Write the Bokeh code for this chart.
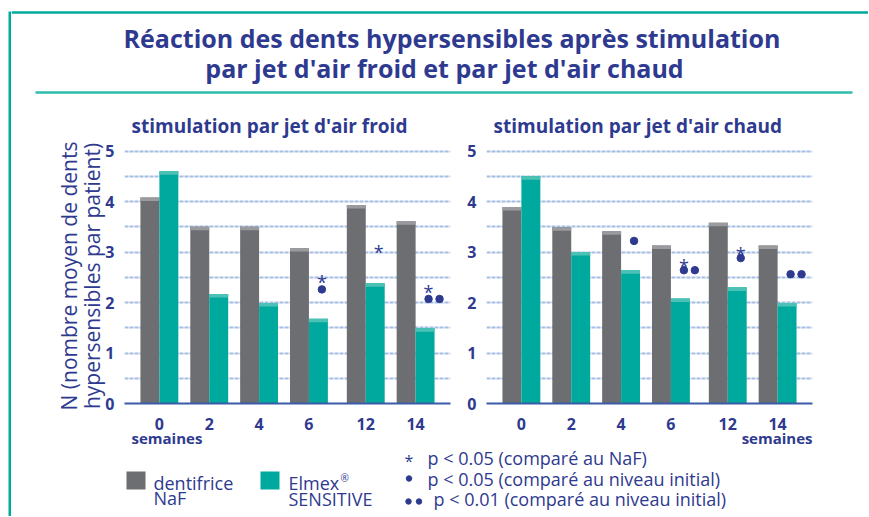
from bokeh.plotting import figure
from bokeh.layouts import row, column
from bokeh.models import ColumnDataSource, FactorRange, Range1d, FixedTicker
from bokeh.transform import dodge
from bokeh.core.properties import value
from bokeh.embed import file_html
from bokeh.resources import INLINE

# ---------------- data ----------------
weeks = ["0", "2", "4", "6", "12", "14"]
period = ["a", "a", "a", "a", "b", "b"]          # break in the axis between 6 and 12 weeks

froid_naf = [4.08, 3.50, 3.50, 3.08, 3.93, 3.61]
froid_elmex = [4.60, 2.17, 1.99, 1.68, 2.38, 1.49]
chaud_naf = [3.89, 3.49, 3.41, 3.13, 3.58, 3.13]
chaud_elmex = [4.50, 3.00, 2.64, 2.08, 2.30, 1.99]

# significance marks (y level of the symbol), None = no mark
froid_star = [None, None, None, 2.49, 3.08, 2.28]
froid_dot = [None, None, None, 2.26, None, 2.07]
froid_dot2 = [None, None, None, None, None, 2.07]
chaud_star = [None, None, None, 2.80, 3.04, None]
chaud_dot = [None, None, 3.22, 2.64, 2.88, 2.56]
chaud_dot2 = [None, None, None, 2.64, None, 2.56]

y_ticks = [0, 1, 2, 3, 4, 5]
grid_ticks = [0.5, 1, 1.5, 2, 2.5, 3, 3.5, 4, 4.5, 5]

title_lines = ["Réaction des dents hypersensibles après stimulation",
               "par jet d'air froid et par jet d'air chaud"]
sub_froid = "stimulation par jet d'air froid"
sub_chaud = "stimulation par jet d'air chaud"
ylabel_text = "N (nombre moyen de dents\nhypersensibles par patient)"
x_unit = "semaines"
series_names = [["dentifrice", "NaF"], ["Elmex", "SENSITIVE"]]
sig_notes = ["p < 0.05 (comparé au NaF)",
             "p < 0.05 (comparé au niveau initial)",
             "p < 0.01 (comparé au niveau initial)"]

# ---------------- style ----------------
NAVY = "#2e3a8f"
TEAL = "#00a99d"
TEAL_HI = "#4cc2b6"
GRAY = "#6d6e71"
GRAY_HI = "#9a9b9e"
GRID = "#a5bde2"
AXIS = "#3a5ca8"
FONT = "Open Sans"
TOTAL_W = 868
TOTAL_H = 516
HDR_H = 99
CHART_H = 341
TOP_B = 49
FRAME_H = 255
OVERLAP = 15
LEG_H = TOTAL_H - HDR_H - CHART_H + OVERLAP
INNER_W = TOTAL_W - 11


def sub_source(factors, vals):
    xs = [f for f, v in zip(factors, vals) if v is not None]
    ys = [v for v in vals if v is not None]
    return ColumnDataSource(dict(x=xs, y=ys))


def chart(subtitle, naf, elmex, star, dot, dot2, width, left, right, with_ylabel):
    factors = list(zip(period, weeks))
    xr = FactorRange(factors=factors, factor_padding=0, group_padding=0.14,
                     range_padding=0.2, range_padding_units="absolute")
    p = figure(width=width, height=CHART_H, x_range=xr, y_range=Range1d(0, 5.05),
               output_backend="svg", toolbar_location=None,
               min_border_left=left, min_border_right=right,
               min_border_top=TOP_B, min_border_bottom=CHART_H - TOP_B - FRAME_H,
               outline_line_color=None, border_fill_color="white")
    p.title.text = subtitle
    p.title.text_font = FONT
    p.title.text_font_style = "bold"
    p.title.text_font_size = "19px"
    p.title.text_color = NAVY
    p.title.align = "left"
    p.title.offset = 7
    p.title.standoff = 20

    cap = 0.07
    src = ColumnDataSource(dict(x=factors, naf=naf, elmex=elmex,
                                naf_c=[v - cap for v in naf],
                                elmex_c=[v - cap for v in elmex]))
    p.vbar(x=dodge("x", -0.19, range=xr), top="naf", width=0.38, source=src,
           fill_color=GRAY, line_color=None)
    p.vbar(x=dodge("x", -0.19, range=xr), top="naf", bottom="naf_c", width=0.38, source=src,
           fill_color=GRAY_HI, line_color=None)
    p.vbar(x=dodge("x", 0.19, range=xr), top="elmex", width=0.38, source=src,
           fill_color=TEAL, line_color=None)
    p.vbar(x=dodge("x", 0.19, range=xr), top="elmex", bottom="elmex_c", width=0.38, source=src,
           fill_color=TEAL_HI, line_color=None)

    ss = sub_source(factors, star)
    ss.data["t"] = ["*"] * len(ss.data["y"])
    p.text(x=dodge("x", 0.26, range=xr), y="y", text="t", source=ss,
           text_font=value(FONT), text_font_size="18px", text_color=NAVY,
           text_align="center", text_baseline="middle", y_offset=4)
    p.scatter(x=dodge("x", 0.26, range=xr), y="y", source=sub_source(factors, dot),
              size=7.5, color=NAVY)
    p.scatter(x=dodge("x", 0.48, range=xr), y="y", source=sub_source(factors, dot2),
              size=7.5, color=NAVY)

    # axes
    p.yaxis.ticker = FixedTicker(ticks=y_ticks)
    p.yaxis.axis_line_color = None
    p.yaxis.major_tick_line_color = None
    p.yaxis.minor_tick_line_color = None
    p.yaxis.major_label_standoff = 4
    for ax in (p.xaxis, p.yaxis):
        ax.major_label_text_font = FONT
        ax.major_label_text_font_style = "bold"
        ax.major_label_text_font_size = "16px"
        ax.major_label_text_color = NAVY
    p.xaxis.axis_line_color = AXIS
    p.xaxis.axis_line_width = 2
    p.xaxis.major_tick_line_color = None
    p.xaxis.minor_tick_line_color = None
    p.xaxis.major_label_standoff = 8
    p.xaxis.group_text_font_size = "0px"
    p.xaxis.group_text_alpha = 0
    p.xaxis.separator_line_color = None

    p.xgrid.grid_line_color = None
    p.ygrid.ticker = FixedTicker(ticks=grid_ticks)
    p.ygrid.grid_line_color = GRID
    p.ygrid.grid_line_width = 2
    p.ygrid.grid_line_dash = "4 1"

    if with_ylabel:
        p.yaxis.axis_label = ylabel_text
        p.yaxis.axis_label_text_font = FONT
        p.yaxis.axis_label_text_font_style = "normal"
        p.yaxis.axis_label_text_font_size = "21px"
        p.yaxis.axis_label_text_color = NAVY
        p.yaxis.axis_label_text_line_height = 0.85
        p.yaxis.axis_label_standoff = -4
    return p


def blank(width, height, **kw):
    f = figure(width=width, height=height, x_range=Range1d(0, width), y_range=Range1d(0, height),
               output_backend="svg", toolbar_location=None, min_border=0,
               x_axis_type=None, y_axis_type=None, outline_line_color=None,
               border_fill_color="white", **kw)
    f.grid.visible = False
    return f


# ---------------- header ----------------
hdr = blank(INNER_W, HDR_H)
hdr.segment(x0=[0], y0=[HDR_H - 12], x1=[INNER_W], y1=[HDR_H - 12], line_color=TEAL, line_width=2.5)
hdr.text(x=[440.5, 433], y=[HDR_H - 37, HDR_H - 67.5], text=title_lines, text_font=value(FONT),
         text_font_style="bold", text_font_size="25px", text_color=NAVY,
         text_align="center", text_baseline="alphabetic")
hdr.segment(x0=[24], y0=[HDR_H - 92], x1=[841], y1=[HDR_H - 92], line_color="#2ebcad", line_width=2.5)

# ---------------- charts ----------------
left_chart = chart(sub_froid, froid_naf, froid_elmex, froid_star, froid_dot, froid_dot2,
                   445, 113, 6, True)
right_w = INNER_W - 445
right_chart = chart(sub_chaud, chaud_naf, chaud_elmex, chaud_star, chaud_dot, chaud_dot2,
                    right_w, 30, right_w - 30 - 326, False)

# ---------------- legend (and axis unit), slightly overlapping the charts ----------------
leg = blank(INNER_W, LEG_H, margin=(-OVERLAP, 0, 0, 0))
leg.border_fill_alpha = 0
leg.background_fill_alpha = 0
B = TOTAL_H + 8   # text baseline correction
leg.text(x=[120, 801], y=[B - 445, B - 445], text=[x_unit, x_unit],
         text_align=["left", "right"], text_font=value(FONT), text_font_style="bold",
         text_font_size="15px", text_color=NAVY, text_baseline="alphabetic")
leg.quad(left=[115, 249], right=[134, 268], bottom=[TOTAL_H - 489] * 2, top=[TOTAL_H - 471] * 2,
         fill_color=[GRAY, TEAL], line_color=None)
leg.text(x=[142, 142, 277, 277], y=[B - 490, B - 505, B - 490, B - 506],
         text=[series_names[0][0], series_names[0][1], series_names[1][0], series_names[1][1]],
         text_font=value(FONT), text_font_size="18px", text_color=NAVY,
         text_align="left", text_baseline="alphabetic")
leg.text(x=[329], y=[B - 485], text=["®"], text_font=value(FONT), text_font_size="10px",
         text_color=NAVY, text_align="left", text_baseline="alphabetic")
leg.text(x=[416, 416, 422], y=[B - 465, B - 486, B - 506], text=sig_notes,
         text_font=value(FONT), text_font_size="18px", text_color=NAVY,
         text_align="left", text_baseline="alphabetic")
leg.text(x=[397.5], y=[TOTAL_H - 456.5], text=["*"], text_font=value(FONT), text_font_size="16px",
         text_color=NAVY, text_align="center", text_baseline="middle", y_offset=4)
leg.scatter(x=[397.5, 397, 407.5], y=[TOTAL_H - 478, TOTAL_H - 501, TOTAL_H - 501],
            size=5.5, color=NAVY)

# ---------------- left border ----------------
spacer = figure(width=11, height=TOTAL_H, output_backend="svg", toolbar_location=None,
                min_border=0, min_border_left=8, min_border_top=11,
                x_axis_type=None, y_axis_type=None,
                outline_line_color=None, background_fill_color=TEAL, border_fill_color="white")
spacer.grid.visible = False

layout = row(spacer, column(hdr, row(left_chart, right_chart), leg))

with open("out.html", "w") as fh:
    fh.write(file_html(layout, INLINE))
